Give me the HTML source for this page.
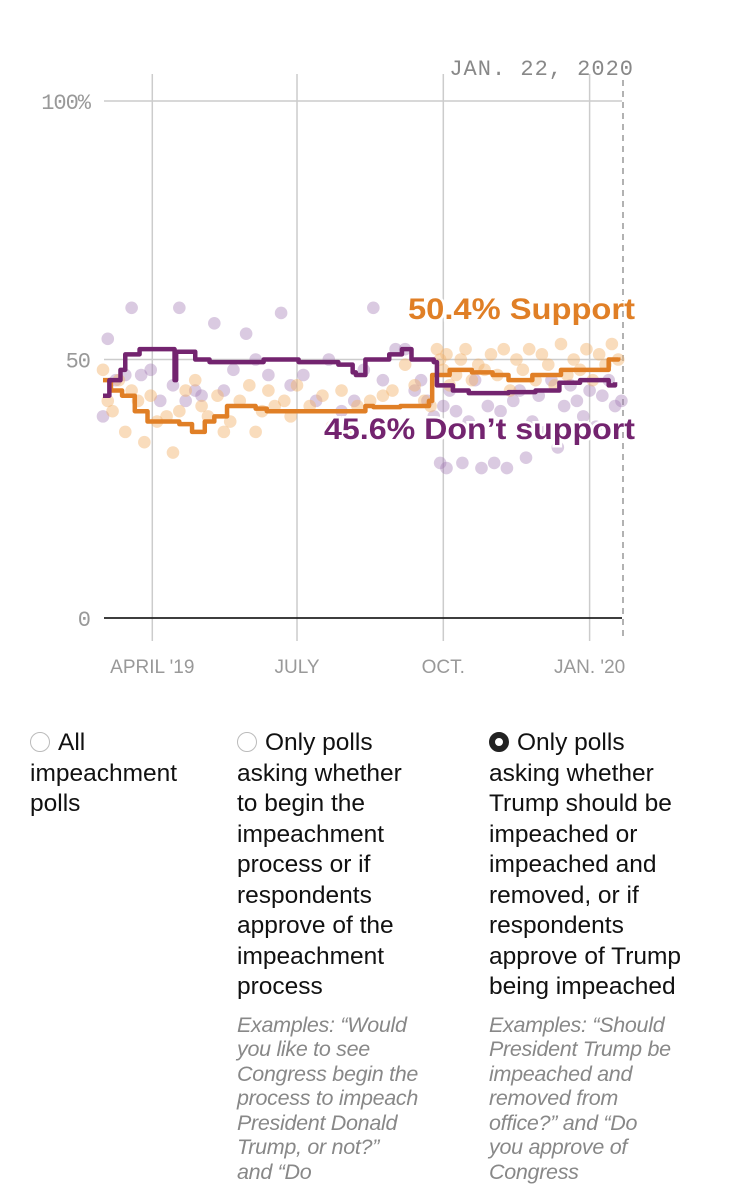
<!DOCTYPE html>
<html><head><meta charset="utf-8">
<style>
body{margin:0;width:750px;height:1165px;background:#fff;overflow:hidden;position:relative;font-family:"Liberation Sans Narrow","Liberation Sans",sans-serif;}
svg{position:absolute;left:0;top:0}
.opt{position:absolute;top:728px;font-size:24.5px;line-height:30.5px;color:#111;}
.radio{display:inline-block;width:20px;height:20px;border:1.5px solid #bbb;border-radius:50%;vertical-align:-2px;margin-right:8px;box-sizing:border-box}
.radio.on{border:6px solid #222;background:#fff}
.ex{font-family:"Liberation Sans",sans-serif;font-style:italic;color:#888;font-size:21.5px;line-height:24.5px;margin-top:10px;letter-spacing:-0.3px}
</style></head><body>
<svg width="750" height="700" id="chart"></svg>
<div class="opt" style="left:30px;width:180px"><span class="radio"></span>All<br>impeachment<br>polls</div>
<div class="opt" style="left:237px;width:215px"><span class="radio"></span>Only polls<br>asking whether<br>to begin the<br>impeachment<br>process or if<br>respondents<br>approve of the<br>impeachment<br>process
<div class="ex">Examples: “Would<br>you like to see<br>Congress begin the<br>process to impeach<br>President Donald<br>Trump, or not?”<br>and “Do</div></div>
<div class="opt" style="left:489px;width:250px"><span class="radio on"></span>Only polls<br>asking whether<br>Trump should be<br>impeached or<br>impeached and<br>removed, or if<br>respondents<br>approve of Trump<br>being impeached
<div class="ex">Examples: “Should<br>President Trump be<br>impeached and<br>removed from<br>office?” and “Do<br>you approve of<br>Congress</div></div>
<script>
// days since Mar 1 2019
const yTicks=[0,50,100];
const yTickLabels=["0","50","100%"];
const xTickDays=[31,122,214,306];
const xTickLabels=["APRIL '19","JULY","OCT.","JAN. '20"];
const endDay=327;
const supportDays=[0,5,12,20,28,48,56,64,70,78,96,103,165,170,187,205,207,218,232,245,255,270,288,318,324];
const supportVals=[46,44,43,40,38,37.5,36,38,39,41,40.5,40,41,40.8,41,42,47,48,47.5,47,46,47,48,50,50.4];
const opposeDays=[0,4,11,14,23,45,46,58,67,76,101,123,148,157,159,165,180,188,194,208,210,220,230,255,272,287,300,318,322];
const opposeVals=[43,46,48,51,52,46,51.5,50,49.5,49.5,50,49.5,49,47.5,47,50,51,52,50,49.5,45,44,43.5,43.7,44,45.5,46,45,45.6];
const supportDotDays=[0,3,6,10,14,18,22,26,30,34,40,44,48,52,58,62,66,72,76,80,86,92,96,100,104,108,114,118,122,130,138,144,150,156,160,168,176,182,190,196,202,206,210,212,214,216,218,222,225,228,232,236,240,244,248,252,256,260,264,268,272,276,280,284,288,292,296,300,304,308,312,316,320,324];
const supportDotVals=[48,42,40,46,36,44,42,34,43,38,39,32,40,44,46,41,39,43,36,38,42,45,36,40,44,41,42,39,45,41,43,37,44,36,41,42,43,44,49,45,42,41,52,50,48,51,45,47,50,52,46,49,48,51,47,52,44,50,48,52,46,51,49,45,53,47,50,48,52,46,51,49,53,50];
const opposeDotDays=[0,3,8,14,18,24,30,36,44,48,52,58,62,70,76,82,90,96,104,112,118,126,134,142,150,158,164,170,176,184,190,196,200,204,208,212,214,216,218,222,226,230,234,238,242,246,250,254,258,262,266,270,274,278,282,286,290,294,298,302,306,310,314,318,322,326];
const opposeDotVals=[39,54,46,47,60,47,48,42,45,60,42,44,43,57,44,48,55,50,47,59,45,47,42,50,40,42,48,60,46,52,52,44,46,42,39,30,41,29,44,40,30,38,46,29,41,30,40,29,42,44,31,38,43,36,46,33,41,45,42,39,44,37,43,46,41,42];
const NS="http://www.w3.org/2000/svg";
const svg=document.getElementById('chart');
const X=d=>103+d*(520/327);
const Y=v=>618-v*5.17;
function mk(t,a,parent){const e=document.createElementNS(NS,t);for(const k in a)e.setAttribute(k,a[k]);(parent||svg).appendChild(e);return e;}
xTickDays.forEach((d,i)=>{
 const l=mk('line',{x1:X(d),x2:X(d),y1:74,y2:641,stroke:'#ccc','stroke-width':1.5});
 
 
 const t=mk('text',{x:X(d),y:673,'text-anchor':'middle',fill:'#999','font-size':19});
 t.textContent=xTickLabels[i];
 
 
});
yTicks.forEach((v,i)=>{
 const l=mk('line',{x1:104,x2:622,y1:Y(v),y2:Y(v),stroke:v===0?'#222':'#ccc','stroke-width':v===0?1.8:1.5});
 
 
 const t=mk('text',{x:90,y:Y(v)+8,'text-anchor':'end',fill:'#999','font-size':22,'font-family':'Liberation Mono, monospace','letter-spacing':'-1'});
 t.textContent=yTickLabels[i];
 
 
});
const dl=mk('line',{x1:X(endDay),x2:X(endDay),y1:80,y2:641,stroke:'#999','stroke-width':1.5,'stroke-dasharray':'6,5'});


const dt=mk('text',{x:634,y:75,'text-anchor':'end',fill:'#888','font-size':22,'font-family':'Liberation Mono, monospace','letter-spacing':'1'});
dt.textContent='JAN. 22, 2020';


opposeDotDays.forEach((d,i)=>{
 const c=mk('circle',{cx:X(d),cy:Y(opposeDotVals[i]),r:6.3,fill:'#a27bb5','fill-opacity':0.4});
 
 
});
supportDotDays.forEach((d,i)=>{
 const c=mk('circle',{cx:X(d),cy:Y(supportDotVals[i]),r:6.3,fill:'#f2b26b','fill-opacity':0.45});
 
 
});
function step(days,vals){let p='';days.forEach((d,i)=>{p+=(i?'L':'M')+X(d)+','+Y(vals[i]);if(i<days.length-1)p+='L'+X(days[i+1])+','+Y(vals[i]);});return p;}
const so=mk('path',{d:step(supportDays,supportVals),fill:'none',stroke:'#e07f26','stroke-width':4.5,'stroke-linejoin':'round'});


const op=mk('path',{d:step(opposeDays,opposeVals),fill:'none',stroke:'#73246f','stroke-width':4.5,'stroke-linejoin':'round'});


const ls=mk('text',{x:635,y:319,'text-anchor':'end',fill:'#e07f26','font-size':30,'font-weight':'bold','font-family':'Liberation Sans, sans-serif',stroke:'#fff','stroke-width':5,'paint-order':'stroke',textLength:227,lengthAdjust:'spacingAndGlyphs'});
ls.textContent='50.4% Support';


const lo=mk('text',{x:635,y:439,'text-anchor':'end',fill:'#73246f','font-size':30,'font-weight':'bold','font-family':'Liberation Sans, sans-serif',stroke:'#fff','stroke-width':5,'paint-order':'stroke',textLength:311,lengthAdjust:'spacingAndGlyphs'});
lo.textContent='45.6% Don’t support';


</script>
</body></html>
